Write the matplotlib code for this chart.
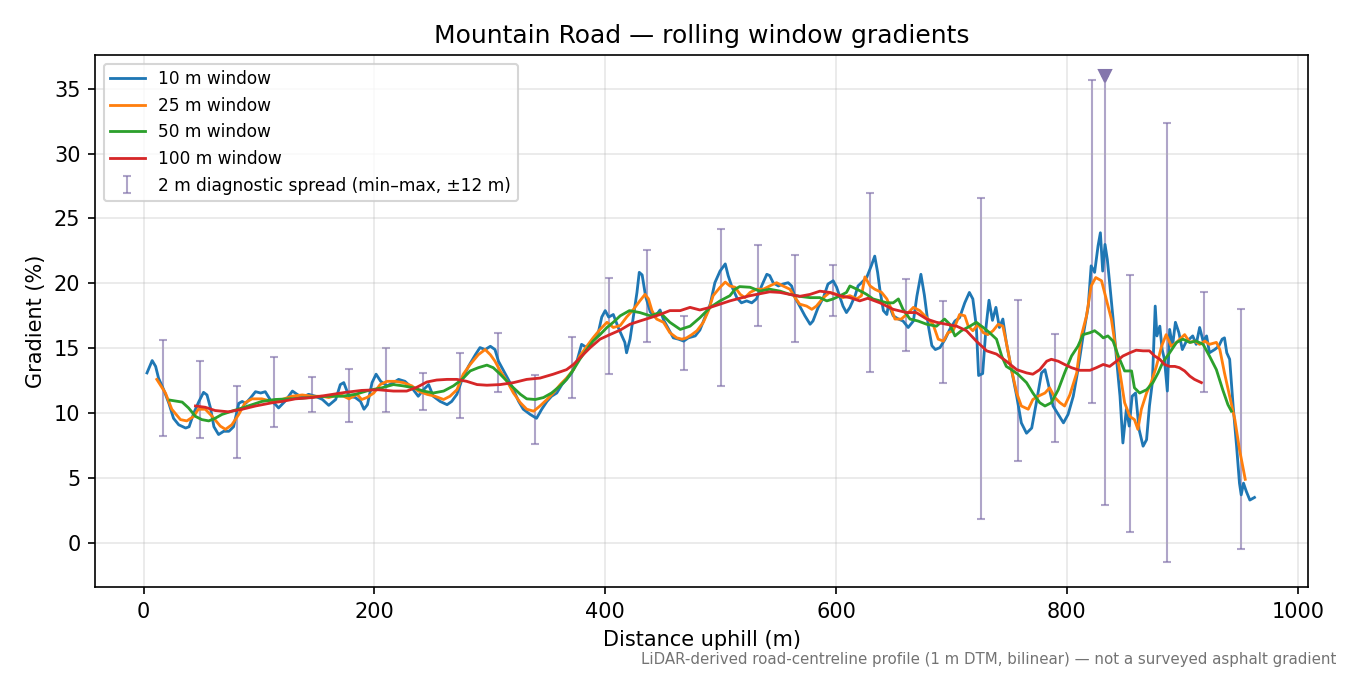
import numpy as np
import matplotlib
matplotlib.use("Agg")
from matplotlib import pyplot as plt

# 10 m window (distance m, gradient %)
d10 = [3, 7.5, 10.5, 13, 17.5, 22, 26, 30.5, 36.5, 39.5, 43.5, 48, 52, 55, 58, 61, 65, 69.5, 74, 78,
       82.5, 85.5, 88.5, 92.5, 97, 101.5, 105.5, 110, 114.5, 117, 123, 129, 133, 137.5, 143, 149, 155,
       160.5, 166.5, 170.5, 173.5, 178, 183.5, 188, 191, 194, 198, 201.5, 205.5, 211, 216.5, 221,
       226.5, 232.5, 238, 242.5, 247, 251, 257, 263, 267, 271.5, 276, 281.5, 287.5, 291.5, 296,
       300.5, 304.5, 307.5, 312, 316, 320.5, 325, 329, 335, 340.5, 345, 349.5, 353.5, 358, 362.5,
       366.5, 371, 375.5, 379.5, 384, 389.5, 394, 397, 400, 403, 407, 411.5, 417, 418.5, 421.5,
       424.5, 427.5, 429.5, 432, 435, 439, 443, 447.5, 450.5, 455, 459, 463.5, 468, 472, 478, 482,
       486.5, 491, 495, 499.5, 504, 506.5, 509.5, 514, 518, 522.5, 527, 531, 535.5, 540, 542.5,
       545.5, 550, 554, 558.5, 561.5, 564.5, 568.5, 573, 577.5, 580, 584.5, 589, 593, 597.5, 600.5,
       603.5, 606, 609, 612, 616.5, 619, 622, 626.5, 630.5, 633.5, 636, 638, 641, 644, 645.5, 649.5,
       654, 658, 662.5, 667, 670, 673.5, 676.5, 680, 683, 686, 690, 694.5, 698.5, 703, 707, 711.5,
       715.5, 718.5, 721.5, 723.5, 727, 730, 732.5, 735.5, 738.5, 741.5, 744.5, 747.5, 752, 756.5,
       760.5, 765, 769.5, 773.5, 778, 781, 784, 788, 792.5, 797, 801, 805.5, 809.5, 814, 818.5, 821,
       824, 827, 829, 831, 833, 835, 837, 840, 843, 846, 848.5, 851.5, 854, 856.5, 859.5, 862.5, 866,
       869, 871.5, 874, 876.5, 878, 880.5, 882.5, 884.5, 887, 889, 891.5, 894, 897, 900, 903, 906,
       909, 912, 915, 918, 921, 923.5, 928, 931.5, 934.5, 936.5, 938.5, 941, 944, 947, 949.5, 951,
       953, 955.5, 958.5, 962.5]
g10 = [13.1, 14.05, 13.6, 12.7, 11.8, 10.75, 9.6, 9.1, 8.85, 8.95, 10.0, 10.9, 11.6, 11.4, 10.4, 8.95,
       8.35, 8.6, 8.6, 8.95, 10.75, 10.9, 10.75, 11.15, 11.65, 11.55, 11.65, 11.0, 10.65, 10.4, 10.95,
       11.7, 11.45, 11.2, 11.45, 11.3, 11.05, 10.6, 11.05, 12.2, 12.35, 11.3, 11.2, 10.9, 10.3, 10.65,
       12.35, 13.0, 12.45, 12.1, 12.35, 12.6, 12.45, 11.95, 11.3, 11.8, 12.2, 11.3, 10.9, 10.65, 10.9,
       11.45, 12.6, 13.6, 14.5, 15.05, 14.9, 15.15, 14.9, 14.0, 13.25, 12.6, 11.8, 10.9, 10.3, 9.9,
       9.6, 10.3, 10.9, 11.3, 11.55, 12.2, 12.6, 13.1, 14.0, 15.3, 15.05, 15.7, 16.2, 17.4, 17.9,
       17.4, 17.6, 16.55, 15.45, 14.65, 15.7, 17.5, 19.3, 20.85, 20.65, 19.0, 17.8, 17.4, 17.95, 17.2,
       16.45, 15.8, 15.7, 15.55, 15.8, 15.95, 16.4, 17.4, 18.4, 20.05, 20.95, 21.5, 20.6, 19.8, 18.9,
       18.5, 18.65, 18.5, 18.8, 19.8, 20.7, 20.6, 20.05, 19.8, 19.95, 20.05, 19.8, 18.9, 18.25, 17.5,
       16.85, 17.1, 18.15, 18.9, 19.95, 20.2, 19.7, 18.9, 18.25, 17.75, 18.15, 19.05, 19.8, 20.05,
       20.45, 21.35, 22.1, 20.85, 19.5, 17.9, 17.6, 18.4, 17.5, 17.25, 17.1, 16.6, 17.1, 19.0, 20.7,
       19.1, 16.7, 15.2, 14.9, 15.05, 15.7, 16.45, 17.1, 17.35, 18.5, 19.3, 18.8, 16.7, 12.9, 13.05,
       16.7, 18.7, 17.15, 18.15, 16.6, 17.25, 15.45, 13.35, 11.3, 9.25, 8.45, 8.85, 10.8, 13.1, 13.35,
       12.2, 10.55, 9.9, 9.25, 9.9, 11.3, 13.3, 15.95, 18.25, 21.35, 20.85, 22.9, 23.9, 20.95, 23.0,
       21.85, 20.05, 17.25, 14.15, 11.3, 7.7, 10.3, 9.0, 11.3, 11.55, 8.75, 7.45, 7.95, 10.55, 12.35,
       18.25, 15.95, 16.7, 14.9, 14.15, 11.7, 16.45, 15.15, 17.0, 16.2, 14.9, 15.45, 15.7, 15.95, 15.3,
       16.6, 15.55, 15.95, 14.65, 14.9, 15.15, 15.7, 15.8, 14.65, 14.15, 10.55, 7.45, 4.6, 3.7, 4.6,
       3.95, 3.3, 3.5]

# 25 m window
d25 = [11.5, 19, 24.5, 32, 37.5, 43.5, 47.5, 53.5, 59.5, 66.5, 71, 76.5, 82.5, 88, 94, 102.5, 111.5,
       120, 128.5, 137.5, 146, 154.5, 160.5, 170, 178, 185, 189, 193.5, 199.5, 205, 211, 218, 225,
       232.5, 238, 245.5, 252.5, 260, 265.5, 271.5, 277, 283, 290, 296, 300.5, 304.5, 309, 315, 320.5,
       326.5, 332, 338, 343.5, 349.5, 355, 361, 366.5, 372.5, 378, 384, 389.5, 395.5, 401.5, 407, 413,
       418.5, 424.5, 430, 434.5, 437.5, 440.5, 444.5, 450.5, 456, 462, 466.5, 470.5, 475, 479.5, 485,
       489.5, 493.5, 499.5, 504, 508, 512.5, 517, 521, 525.5, 531, 537, 542.5, 548.5, 554, 560, 564.5,
       568.5, 574.5, 579, 583, 589, 594.5, 600.5, 606, 612, 618, 622, 625, 629.5, 633.5, 639.5, 644,
       648, 651, 656.5, 661, 667, 672.5, 678.5, 684, 688.5, 693, 697, 701.5, 707, 711.5, 714.5, 718.5,
       723, 727.5, 731.5, 736, 740.5, 744.5, 747.5, 752, 756.5, 760.5, 766.5, 770.5, 775, 781, 785,
       789.5, 794, 798, 802.5, 808.5, 812.5, 817, 821, 825, 830, 834, 838.5, 841.5, 846, 850, 854.5,
       858.5, 861.5, 864.5, 869, 873, 877.5, 882, 886, 890.5, 895, 899, 902, 906.5, 910.5, 915, 919.5,
       923.5, 929.5, 932.5, 936.5, 941, 945.5, 949.5, 954.5]
g25 = [12.6, 11.55, 10.3, 9.5, 9.4, 9.75, 10.3, 10.3, 9.75, 9.0, 8.75, 9.1, 9.9, 10.8, 11.1, 11.1, 10.9,
       11.05, 11.3, 11.4, 11.3, 11.3, 11.2, 11.45, 11.1, 11.45, 11.05, 11.2, 11.55, 12.2, 12.45, 12.45,
       12.35, 12.1, 11.7, 11.45, 11.3, 11.05, 11.3, 11.8, 13.0, 13.75, 14.5, 14.9, 14.5, 14.0, 13.25,
       12.45, 11.55, 10.8, 10.3, 10.15, 10.55, 11.05, 11.55, 12.2, 12.7, 13.35, 14.4, 15.15, 15.8,
       16.45, 17.0, 16.6, 16.75, 17.4, 18.0, 18.65, 19.15, 18.8, 17.9, 17.25, 17.0, 16.2, 15.8, 15.7,
       15.8, 16.05, 16.35, 17.0, 17.9, 19.05, 19.7, 20.1, 19.8, 19.7, 19.15, 18.9, 19.3, 19.55, 19.55,
       19.8, 20.05, 19.8, 19.55, 18.9, 18.4, 18.25, 18.0, 18.25, 18.9, 19.3, 19.15, 18.9, 19.05, 18.8,
       19.05, 20.5, 19.8, 19.55, 19.3, 18.8, 18.0, 17.25, 17.25, 17.6, 18.15, 17.9, 17.35, 16.85, 15.7,
       15.55, 16.2, 16.35, 17.6, 17.5, 16.7, 16.35, 16.85, 16.2, 16.05, 16.35, 16.85, 16.7, 15.45,
       13.35, 11.55, 10.55, 10.3, 11.05, 11.3, 11.55, 11.95, 11.2, 10.8, 10.55, 11.4, 13.1, 15.95,
       17.5, 19.8, 20.45, 20.2, 18.8, 17.25, 15.45, 13.1, 10.8, 9.75, 9.5, 8.75, 10.3, 11.55, 12.35,
       13.6, 15.15, 16.05, 15.15, 15.45, 15.8, 16.05, 15.45, 15.55, 15.3, 15.55, 15.3, 15.45, 14.9,
       13.1, 11.3, 9.5, 7.2, 4.9]

# 50 m window
d50 = [23, 33.5, 39, 45, 50.5, 56.5, 62, 68, 76.5, 85.5, 94, 102.5, 114, 125.5, 137.5, 149, 160.5, 172,
       183.5, 195, 206.5, 216.5, 225, 234, 242.5, 251, 260, 268.5, 276, 283, 290, 297.5, 303, 309,
       315, 320.5, 326.5, 332, 339.5, 346.5, 353.5, 361, 366.5, 372.5, 378, 384, 389.5, 395.5, 401.5,
       407, 413, 421, 430, 439, 447.5, 456, 465, 473.5, 482, 491, 499.5, 508, 512.5, 516.5, 525.5, 534,
       542.5, 551.5, 560, 568.5, 577.5, 586, 592, 597.5, 603.5, 609, 612, 618, 623.5, 626.5, 632, 638,
       644, 649.5, 654, 658, 664, 671, 678.5, 687, 694, 698.5, 703, 708.5, 716, 721.5, 727.5, 733, 739,
       743.5, 747.5, 752, 757.5, 765, 770.5, 776.5, 781, 786.5, 792.5, 798, 804, 809.5, 814, 820, 824,
       828.5, 831.5, 835.5, 840, 844.5, 850, 856, 858.5, 863, 869, 874.5, 879, 883, 889, 895, 900.5,
       906.5, 912, 918, 923.5, 929.5, 935, 939.5, 942.5]
g50 = [11.0, 10.85, 10.4, 9.75, 9.5, 9.4, 9.6, 9.9, 10.15, 10.4, 10.65, 10.9, 11.05, 11.1, 11.15, 11.25,
       11.3, 11.3, 11.45, 11.75, 11.95, 12.2, 12.1, 11.95, 11.7, 11.55, 11.7, 12.1, 12.6, 13.25, 13.5,
       13.7, 13.5, 13.0, 12.45, 11.95, 11.45, 11.1, 11.05, 11.2, 11.55, 12.1, 12.6, 13.35, 14.15, 14.9,
       15.55, 16.05, 16.6, 17.0, 17.5, 17.9, 17.75, 17.5, 17.75, 17.0, 16.45, 16.7, 17.35, 18.15, 18.65,
       19.05, 19.55, 19.75, 19.7, 19.4, 19.55, 19.4, 19.15, 19.0, 18.9, 18.9, 18.65, 18.8, 19.05, 19.3,
       19.8, 19.55, 19.3, 19.15, 18.8, 18.65, 18.5, 18.5, 18.8, 18.0, 17.25, 17.1, 16.85, 16.7, 17.25,
       16.85, 15.95, 16.35, 16.7, 17.0, 16.6, 16.2, 15.7, 14.4, 13.6, 13.35, 13.0, 12.35, 11.55, 10.8,
       10.55, 10.8, 11.8, 13.1, 14.4, 15.15, 16.05, 16.2, 16.35, 16.05, 15.8, 15.95, 15.55, 14.4, 13.25,
       13.25, 11.95, 11.55, 11.8, 12.35, 13.1, 13.9, 14.65, 15.45, 15.7, 15.45, 15.55, 15.3, 14.4,
       13.35, 11.8, 10.65, 10.15]

# 100 m window
d100 = [45, 53.5, 62, 73.5, 85.5, 97, 111.5, 120, 131.5, 146, 160.5, 175, 189, 203.5, 216.5, 228, 237,
        245.5, 254, 263, 271.5, 280, 289, 297.5, 309, 320.5, 332, 343.5, 355, 366.5, 372.5, 378, 387,
        395.5, 404, 413, 421.5, 430, 439, 447.5, 456, 465, 473.5, 482, 491, 499.5, 508, 516.5, 525.5,
        534, 542.5, 551.5, 560, 568.5, 577.5, 586, 594.5, 603, 612, 620.5, 627.5, 638, 649.5, 661,
        669.5, 678.5, 687, 695.5, 704.5, 713, 721.5, 730.5, 739, 747.5, 756.5, 765, 770.5, 776.5, 782.5,
        786.5, 792.5, 798, 804, 811, 820, 825.5, 831.5, 837, 843, 848.5, 854.5, 860, 866, 871.5, 876,
        880.5, 884.5, 889, 893.5, 897.5, 902, 906.5, 910.5, 916.5]
g100 = [10.55, 10.45, 10.2, 10.1, 10.3, 10.55, 10.8, 10.9, 11.1, 11.2, 11.4, 11.6, 11.75, 11.8, 11.7, 11.7,
        12.0, 12.4, 12.55, 12.6, 12.6, 12.45, 12.2, 12.15, 12.2, 12.35, 12.6, 12.7, 13.0, 13.35, 13.75,
        14.25, 15.05, 15.7, 16.05, 16.4, 16.85, 17.1, 17.35, 17.6, 17.9, 17.9, 18.15, 17.95, 18.15, 18.4,
        18.65, 18.85, 19.05, 19.2, 19.35, 19.3, 19.15, 19.0, 19.15, 19.4, 19.3, 19.05, 18.9, 18.65, 18.85,
        18.5, 18.0, 17.75, 17.75, 17.25, 17.0, 16.85, 16.7, 16.35, 15.55, 14.8, 14.55, 14.0, 13.35, 13.1,
        13.0, 13.35, 14.0, 14.15, 14.0, 13.75, 13.5, 13.3, 13.3, 13.5, 13.75, 13.6, 14.0, 14.4, 14.65,
        14.85, 14.8, 14.8, 14.4, 14.15, 13.75, 13.6, 13.6, 13.5, 13.25, 12.85, 12.6, 12.35]

# 2 m diagnostic spread (min / max within +-12 m)
spread_x = [17, 49, 81, 113, 146, 178, 210, 242, 274, 307, 339, 371, 403, 436, 468, 500, 532, 564, 597,
            629, 661, 693, 726, 758, 790, 822, 833, 855, 887, 919, 951]
spread_lo = [8.2, 8.1, 6.55, 8.9, 10.1, 9.3, 10.1, 10.25, 9.6, 11.6, 7.65, 11.2, 13.0, 15.45, 13.3, 12.1,
             16.75, 15.5, 17.45, 13.2, 14.75, 12.35, 1.87, 6.3, 7.8, 10.8, 2.9, 0.8, -1.5, 11.6, -0.45]
spread_hi = [15.65, 14.0, 12.1, 14.3, 12.75, 13.4, 15.05, 13.1, 14.6, 16.2, 12.95, 15.9, 20.4, 22.55,
             17.5, 24.2, 22.95, 22.2, 21.4, 27.0, 20.35, 18.65, 26.6, 18.7, 16.1, 35.7, 36.0, 20.65,
             32.35, 19.3, 18.0]
# spread clipped at the top of the plot
clip_x = [833]
clip_y = [36.0]

fig, ax = plt.subplots(figsize=(9, 4.5), dpi=150)
fig.subplots_adjust(left=0.0704, right=0.969, top=0.9185, bottom=0.1304)

lo = np.array(spread_lo)
hi = np.array(spread_hi)
mid = (lo + hi) / 2
ax.errorbar(spread_x, mid, yerr=(hi - lo) / 2, fmt='none', ecolor='#7e6ea8', alpha=0.62,
            elinewidth=1.0, capsize=2, zorder=1.5,
            label='2 m diagnostic spread (min–max, ±12 m)')
ax.plot(clip_x, clip_y, 'v', color='#8476ac', markersize=5.5, zorder=3)

ax.plot(d10, g10, color='C0', lw=1.35, label='10 m window')
ax.plot(d25, g25, color='C1', lw=1.35, label='25 m window')
ax.plot(d50, g50, color='C2', lw=1.35, label='50 m window')
ax.plot(d100, g100, color='C3', lw=1.35, label='100 m window')

ax.set_xlim(-42, 1009)
ax.set_ylim(-3.4, 37.6)
ax.grid(True, alpha=0.3)
ax.set_title('Mountain Road — rolling window gradients')
ax.set_xlabel('Distance uphill (m)')
ax.set_ylabel('Gradient (%)')
ax.legend(loc='upper left', fontsize=8.2)

fig.text(0.99, 0.012, 'LiDAR-derived road-centreline profile (1 m DTM, bilinear) — not a surveyed asphalt gradient',
         ha='right', va='bottom', fontsize=7.2, color='0.45')

fig.savefig('out.png', dpi=150)
